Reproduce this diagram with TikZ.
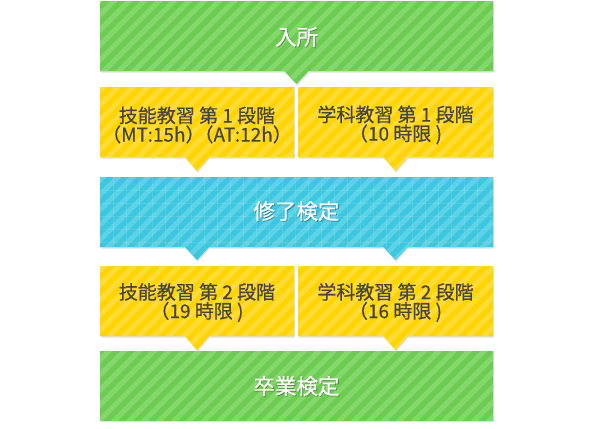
\documentclass[tikz,border=0pt]{standalone}
\usepackage{fontspec}
\newfontfamily\jp{Noto Sans CJK JP}
\newfontfamily\jpb[FakeBold=0.5]{Noto Sans CJK JP}
\definecolor{gbase}{HTML}{6CCC52}
\definecolor{gstripe}{HTML}{84D76B}
\definecolor{ybase}{HTML}{FFD400}
\definecolor{ystripe}{HTML}{FFDD36}
\definecolor{bbase}{HTML}{3AC7DF}
\definecolor{bstripe}{HTML}{5BD2E6}
\definecolor{txt}{HTML}{444444}
\tikzset{x=1pt,y=-1pt,
  lbl/.style={font=\jpb\fontsize{19}{19}\selectfont, text=txt, align=center, inner sep=0pt},
  ttl/.style={font=\jpb\fontsize{21.5}{22}\selectfont, text=white, inner sep=0pt},
  ttlshadow/.style={font=\jpb\fontsize{21.5}{22}\selectfont, text=black, opacity=0.3, inner sep=0pt},
  boxshadow/.style={fill=black!12}}
\newcommand\paintbox[3]{%
  \fill[boxshadow, shift={(0.8,1.5)}] #1;
  \begin{scope}
    \clip #1;
    \fill[#2] (0,0) rectangle (590,429);
    \foreach \k in {-460,-445,...,600} \draw[#3, line width=5pt] (\k,440) -- ++(460,-460);
  \end{scope}}
\begin{document}
\begin{tikzpicture}
\useasboundingbox (0,0) rectangle (590,429);
\fill[white] (0,0) rectangle (590,429);
% top green
\paintbox{(100,1) -- (493,1) -- (493,71) -- (308.5,71) -- (296.5,84) -- (284.5,71) -- (100,71) -- cycle}{gbase}{gstripe}
% yellow row 1
\paintbox{(100,87) -- (294,87) -- (294,157) -- (209,157) -- (197,171) -- (185,157) -- (100,157) -- cycle}{ybase}{ystripe}
\paintbox{(298,87) -- (493,87) -- (493,157) -- (407.5,157) -- (395.5,171) -- (383.5,157) -- (298,157) -- cycle}{ybase}{ystripe}
% blue
\paintbox{(100,177) -- (493,177) -- (493,247) -- (407.5,247) -- (395.5,260) -- (383.5,247) -- (209,247) -- (197,260) -- (185,247) -- (100,247) -- cycle}{bbase}{bstripe}
\begin{scope}
  \clip (100,177) rectangle (493,247);
  \foreach \k in {113,126,...,493} \draw[white, opacity=0.1, line width=0.8pt] (\k,177) -- (\k,247);
  \foreach \k in {190,203,...,247} \draw[white, opacity=0.1, line width=0.8pt] (100,\k) -- (493,\k);
\end{scope}
% yellow row 2
\paintbox{(100,266) -- (294,266) -- (294,336) -- (209,336) -- (197,350) -- (185,336) -- (100,336) -- cycle}{ybase}{ystripe}
\paintbox{(298,266) -- (493,266) -- (493,336) -- (407.5,336) -- (395.5,350) -- (383.5,336) -- (298,336) -- cycle}{ybase}{ystripe}
% bottom green
\paintbox{(100,351) -- (493,351) -- (493,420) -- (100,420) -- cycle}{gbase}{gstripe}
% texts
\node[ttlshadow] (s1) at (297.3,37.8) {入所};
\node[ttl] (t1) at (296.5,37) {入所};
\node[lbl] (a1) at (197,125) {技能教習 第 1 段階\\（MT:15h）\hspace{-10pt}（AT:12h）};
\node[lbl] (b1) at (395.5,125) {学科教習 第 1 段階\\（10 時限 )};
\node[ttlshadow] (s2) at (297.3,211.8) {修了検定};
\node[ttl] (t2) at (296.5,211) {修了検定};
\node[lbl] (a2) at (197,302.5) {技能教習 第 2 段階\\（19 時限 )};
\node[lbl] (b2) at (395.5,302.5) {学科教習 第 2 段階\\（16 時限 )};
\node[ttlshadow] (s3) at (297.3,386.8) {卒業検定};
\node[ttl] (t3) at (296.5,386) {卒業検定};
\end{tikzpicture}
\end{document}
